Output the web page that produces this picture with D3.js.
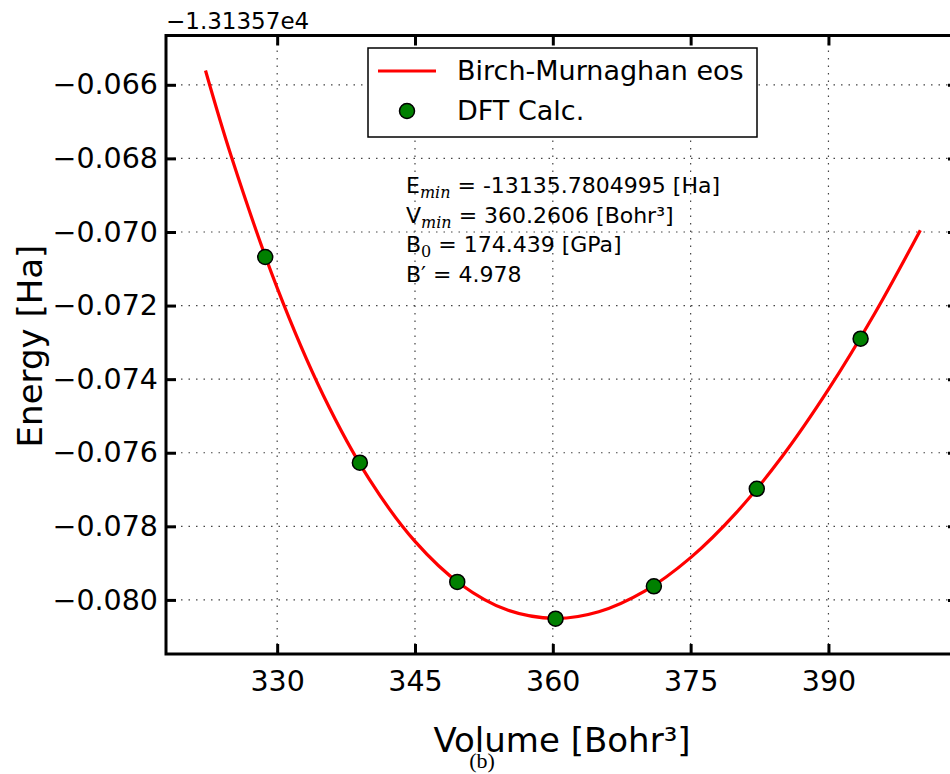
<!DOCTYPE html>
<html>
<head>
<meta charset="utf-8">
<script src="https://cdn.jsdelivr.net/npm/d3@7"></script>
<style>
    body { margin: 0; background: #fff; }
    svg { display: block; font-family: "DejaVu Sans", sans-serif; }
</style>
</head>
<body>
<svg id="chart" width="950" height="774"></svg>
<script>
// DFT points (volume in Bohr^3, energy offset from -1.31357e4 Ha)
var dftVolume = [328.7, 339.0, 349.6, 360.3, 371.0, 382.2, 393.5];
var dftEnergy = [-0.07068, -0.07627, -0.07951, -0.08051, -0.07963, -0.07698, -0.07290];

// fitted curve
var fitVolume = [322.2, 325, 330, 335, 340, 345, 350, 355, 360.26, 365, 370, 375, 380, 385, 390, 395, 400];
var fitEnergy = [-0.06561, -0.06794, -0.07152, -0.07443, -0.07671, -0.07841, -0.07958, -0.08027, -0.08050,
    -0.08032, -0.07976, -0.07885, -0.07762, -0.07609, -0.07428, -0.07223, -0.06995];

var xTicks = [330, 345, 360, 375, 390];
var yTicks = [-0.080, -0.078, -0.076, -0.074, -0.072, -0.070, -0.068, -0.066];
var offsetLabel = "\u22121.31357e4";
var legendLabels = ["Birch-Murnaghan eos", "DFT Calc."];
var fitLines = [
    {main: "E", sub: "min", rest: " = -13135.7804995 [Ha]"},
    {main: "V", sub: "min", rest: " = 360.2606 [Bohr\u00b3]"},
    {main: "B", sub: "0", rest: " = 174.439 [GPa]"},
    {main: "B\u2032", sub: "", rest: " = 4.978"}
];

var svg = d3.select("#chart");
var pLeft = 166, pRight = 958, pTop = 35.5, pBottom = 654;

var x = d3.scaleLinear().domain([317.9, 404.1]).range([pLeft, pRight]);
var y = d3.scaleLinear().domain([-0.08147, -0.06466]).range([pBottom, pTop]);

var fmtY = function (d) { return d3.format(".3f")(d).replace("-", "\u2212"); };

// grid
var grid = svg.append("g").attr("stroke", "#444").attr("stroke-width", 1.2).attr("stroke-dasharray", "1.5,6");
grid.selectAll(".gx").data(xTicks).enter().append("line")
    .attr("x1", d => x(d)).attr("x2", d => x(d)).attr("y1", pTop).attr("y2", pBottom);
grid.selectAll(".gy").data(yTicks).enter().append("line")
    .attr("x1", pLeft).attr("x2", pRight).attr("y1", d => y(d)).attr("y2", d => y(d));

// axes, ticks pointing inward on all sides
var axB = svg.append("g").attr("transform", "translate(0," + pBottom + ")")
    .call(d3.axisBottom(x).tickValues(xTicks).tickSizeInner(-10).tickSizeOuter(0).tickPadding(17));
var axT = svg.append("g").attr("transform", "translate(0," + pTop + ")")
    .call(d3.axisTop(x).tickValues(xTicks).tickSizeInner(-10).tickSizeOuter(0).tickFormat(""));
var axL = svg.append("g").attr("transform", "translate(" + pLeft + ",0)")
    .call(d3.axisLeft(y).tickValues(yTicks).tickSizeInner(-10).tickSizeOuter(0).tickPadding(8).tickFormat(fmtY));
var axR = svg.append("g").attr("transform", "translate(" + pRight + ",0)")
    .call(d3.axisRight(y).tickValues(yTicks).tickSizeInner(-10).tickSizeOuter(0).tickFormat(""));

[axB, axT, axL, axR].forEach(function (ax) {
    ax.select(".domain").remove();
    ax.selectAll(".tick line").attr("stroke", "#000").attr("stroke-width", 3);
    ax.selectAll(".tick text").attr("fill", "#000").attr("font-family", "DejaVu Sans").attr("font-size", 28.5);
});

// frame
svg.append("rect").attr("x", pLeft).attr("y", pTop).attr("width", pRight - pLeft).attr("height", pBottom - pTop)
    .attr("fill", "none").attr("stroke", "#000").attr("stroke-width", 3);

// fit curve
var line = d3.line().x((d, i) => x(fitVolume[i])).y((d, i) => y(fitEnergy[i])).curve(d3.curveCatmullRom);
svg.append("path").datum(fitVolume).attr("d", line)
    .attr("fill", "none").attr("stroke", "#ff0000").attr("stroke-width", 3.2);

// DFT points
svg.selectAll(".pt").data(dftVolume).enter().append("circle")
    .attr("cx", d => x(d)).attr("cy", (d, i) => y(dftEnergy[i])).attr("r", 7.5)
    .attr("fill", "#008000").attr("stroke", "#000").attr("stroke-width", 1.5);

// legend
var lg = svg.append("g");
lg.append("rect").attr("x", 368).attr("y", 48).attr("width", 389).attr("height", 89)
    .attr("fill", "#fff").attr("stroke", "#000").attr("stroke-width", 1.5);
lg.append("line").attr("x1", 378).attr("x2", 436).attr("y1", 71).attr("y2", 71)
    .attr("stroke", "#ff0000").attr("stroke-width", 3.2);
lg.append("circle").attr("cx", 407).attr("cy", 111).attr("r", 7.5)
    .attr("fill", "#008000").attr("stroke", "#000").attr("stroke-width", 1.5);
lg.selectAll("text").data(legendLabels).enter().append("text")
    .attr("x", 457).attr("y", (d, i) => 80 + i * 40)
    .attr("font-size", 27).text(d => d);

// fit parameters
var ann = svg.append("g").attr("font-size", 22);
fitLines.forEach(function (l, i) {
    var t = ann.append("text").attr("x", 406).attr("y", 193 + i * 29.7);
    t.append("tspan").text(l.main);
    if (l.sub) {
        t.append("tspan").attr("dy", 5).attr("font-size", 16)
            .attr("font-family", "DejaVu Serif")
            .attr("font-style", l.sub === "0" ? "normal" : "italic").text(l.sub);
        t.append("tspan").attr("dy", -5).text(l.rest);
    } else {
        t.append("tspan").text(l.rest);
    }
});

// offset text and axis titles
svg.append("text").attr("x", 166).attr("y", 29).attr("font-size", 23).text(offsetLabel);
svg.append("text").attr("x", 562).attr("y", 752).attr("text-anchor", "middle")
    .attr("font-size", 34).text("Volume [Bohr\u00b3]");
svg.append("text").attr("transform", "translate(42,346) rotate(-90)").attr("text-anchor", "middle")
    .attr("font-size", 34).text("Energy [Ha]");
svg.append("text").attr("x", 482).attr("y", 768).attr("text-anchor", "middle")
    .attr("font-family", "Liberation Serif").attr("font-size", 22).text("(b)");
</script>
</body>
</html>
